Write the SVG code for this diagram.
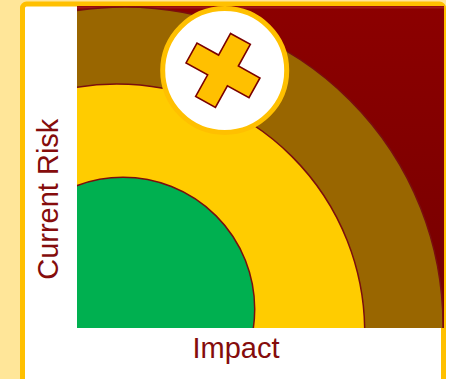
<svg xmlns="http://www.w3.org/2000/svg" width="451" height="379" viewBox="0 0 451 379">
  <defs>
    <linearGradient id="hotZone" x1="0" y1="0" x2="0" y2="1">
      <stop offset="0" stop-color="#8C0000"/>
      <stop offset="1" stop-color="#760000"/>
    </linearGradient>
    <clipPath id="plotClip">
      <rect x="77" y="6" width="367" height="322"/>
    </clipPath>
    <style>
      .band { stroke: #7A0E0E; stroke-width: 1.5; }
      .axis { font-family: "Liberation Sans", Arial, sans-serif; font-size: 29px; fill: #850C0C; text-anchor: middle; }
    </style>
  </defs>

  <!-- page backdrop -->
  <rect x="0" y="0" width="451" height="379" fill="#FFFFFF"/>
  <rect x="0" y="0" width="446" height="379" fill="#FFE699"/>

  <!-- white card with gold frame -->
  <g id="card">
    <rect x="22.5" y="4" width="421" height="420" rx="4" fill="#FFFFFF" stroke="#FFC000" stroke-width="5"/>
  </g>

  <!-- risk zones, clipped to the plot area -->
  <g id="zones" clip-path="url(#plotClip)">
    <rect x="77" y="6" width="367" height="322" fill="url(#hotZone)"/>
    <line x1="77" y1="7.5" x2="444" y2="7.5" stroke="#A01818" stroke-width="2"/>
    <circle id="zone-high" class="band" cx="125" cy="325" r="318" fill="#996600"/>
    <circle id="zone-medium" class="band" cx="116.7" cy="332" r="248" fill="#FFCC00"/>
    <circle id="zone-low" class="band" cx="123" cy="309" r="131.7" fill="#00B050"/>
  </g>

  <!-- current risk marker -->
  <g id="marker">
    <circle cx="224.7" cy="70.5" r="62" fill="#FFFFFF" stroke="#FFC000" stroke-width="5"/>
    <polygon transform="translate(223,70.4) rotate(29)"
             points="-11.3,-36 11.3,-36 11.3,-11.3 36,-11.3 36,11.3 11.3,11.3 11.3,36 -11.3,36 -11.3,11.3 -36,11.3 -36,-11.3 -11.3,-11.3"
             fill="#FFC000" stroke="#7A0000" stroke-width="1.6" stroke-linejoin="miter"/>
  </g>

  <!-- axis labels -->
  <g id="labels">
    <text class="axis" x="236" y="358.3">Impact</text>
    <text class="axis" font-size="28.5" transform="translate(58.3,199.2) rotate(-90)" x="0" y="0">Current Risk</text>
  </g>
</svg>
